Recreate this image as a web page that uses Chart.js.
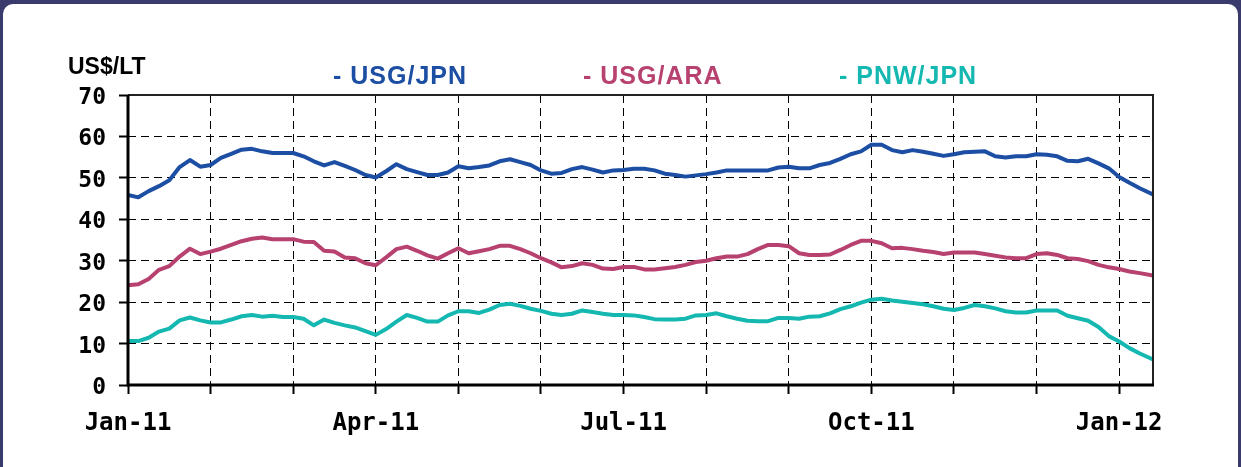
<!DOCTYPE html>
<html>
<head>
<meta charset="utf-8">
<script src="https://cdn.jsdelivr.net/npm/chart.js@4.4.1/dist/chart.umd.min.js"></script>
<style>
  html, body { margin: 0; padding: 0; }
  body { width: 1241px; height: 467px; background: #3b3a6c; overflow: hidden; position: relative; }
  .panel { position: absolute; left: 3px; top: 4px; width: 1235px; height: 490px; background: #fff; border-radius: 10px; }
  #freight-chart { position: absolute; left: 0; top: 0; }
</style>
</head>
<body>
<div class="panel"></div>
<canvas id="freight-chart" width="1241" height="467"></canvas>
<script>
// 運費走勢 (US$/LT)，x 軸以「月」為單位，每點約 1/8 個月
const MONTH_LABELS = ['Jan-11', '', '', 'Apr-11', '', '', 'Jul-11', '', '', 'Oct-11', '', '', 'Jan-12'];
const STEP = 0.125;
const LAST_POS = 12.41;

const SERIES_NAMES  = ['- USG/JPN', '- USG/ARA', '- PNW/JPN'];
const SERIES_COLORS = ['#1c4ea3', '#b7416f', '#14b8b0'];

const usgJpn = [
  45.9, 45.3, 46.8, 48.0, 49.4, 52.6, 54.3, 52.7, 53.1, 54.8,
  55.8, 56.8, 57.0, 56.4, 56.0, 56.0, 56.0, 55.2, 54.0, 53.0,
  53.8, 52.9, 51.9, 50.7, 50.1, 51.6, 53.3, 52.1, 51.4, 50.7,
  50.7, 51.3, 52.8, 52.3, 52.6, 53.0, 54.0, 54.5, 53.8, 53.1,
  51.8, 51.0, 51.2, 52.1, 52.6, 52.0, 51.3, 51.8, 51.9, 52.2,
  52.2, 51.8, 51.0, 50.7, 50.3, 50.6, 50.9, 51.3, 51.8, 51.8,
  51.8, 51.8, 51.8, 52.5, 52.7, 52.3, 52.3, 53.1, 53.6, 54.6,
  55.7, 56.4, 58.0, 58.0, 56.7, 56.2, 56.7, 56.3, 55.8, 55.3,
  55.7, 56.2, 56.3, 56.4, 55.2, 54.9, 55.2, 55.2, 55.7, 55.6,
  55.2, 54.1, 54.0, 54.6, 53.5, 52.3, 50.2, 48.8, 47.5, 46.0
];

const usgAra = [
  24.1, 24.3, 25.6, 27.8, 28.7, 31.0, 32.9, 31.6, 32.2, 32.9,
  33.8, 34.7, 35.3, 35.6, 35.2, 35.2, 35.2, 34.6, 34.5, 32.4,
  32.2, 30.8, 30.6, 29.4, 28.9, 30.8, 32.8, 33.4, 32.4, 31.3,
  30.5, 31.8, 33.0, 31.8, 32.3, 32.8, 33.6, 33.6, 32.8, 31.8,
  30.6, 29.6, 28.4, 28.7, 29.4, 29.0, 28.1, 28.0, 28.5, 28.5,
  27.9, 27.9, 28.2, 28.5, 29.0, 29.7, 30.0, 30.6, 31.0, 31.0,
  31.6, 32.8, 33.8, 33.8, 33.5, 31.8, 31.4, 31.4, 31.5, 32.6,
  33.8, 34.8, 34.8, 34.2, 33.0, 33.1, 32.8, 32.4, 32.1, 31.6,
  32.0, 32.0, 32.0, 31.6, 31.2, 30.8, 30.6, 30.6, 31.6, 31.8,
  31.4, 30.6, 30.4, 29.9, 29.0, 28.4, 28.0, 27.4, 27.0, 26.4
];

const pnwJpn = [
  10.6, 10.6, 11.4, 12.9, 13.6, 15.6, 16.3, 15.6, 15.1, 15.1,
  15.8, 16.6, 16.9, 16.5, 16.7, 16.4, 16.4, 16.0, 14.4, 15.8,
  15.0, 14.4, 13.9, 13.0, 12.1, 13.5, 15.3, 16.9, 16.2, 15.3,
  15.3, 16.8, 17.8, 17.8, 17.4, 18.2, 19.3, 19.6, 19.1, 18.4,
  17.9, 17.2, 16.9, 17.2, 18.0, 17.6, 17.2, 16.9, 16.9, 16.8,
  16.4, 15.9, 15.8, 15.8, 16.0, 16.8, 16.9, 17.3, 16.6, 16.0,
  15.5, 15.4, 15.4, 16.2, 16.2, 16.0, 16.5, 16.6, 17.3, 18.3,
  19.0, 19.9, 20.6, 20.8, 20.4, 20.1, 19.8, 19.5, 19.0, 18.4,
  18.1, 18.6, 19.3, 19.0, 18.5, 17.8, 17.5, 17.5, 18.0, 18.0,
  18.0, 16.7, 16.1, 15.5, 14.0, 11.8, 10.5, 8.9, 7.6, 6.2
];

const Y_TICKS = [0, 10, 20, 30, 40, 50, 60, 70];

function toPoints(values) {
  return values.map((v, i) => ({
    x: i === values.length - 1 ? LAST_POS : i * STEP,
    y: v
  }));
}

// 外框：左、下較粗
const framePlugin = {
  id: 'frame',
  afterDraw(chart) {
    const { ctx, chartArea: a } = chart;
    ctx.save();
    ctx.strokeStyle = '#222';
    ctx.lineWidth = 2;
    ctx.beginPath();
    ctx.moveTo(a.left, a.top);
    ctx.lineTo(a.right, a.top);
    ctx.lineTo(a.right, a.bottom);
    ctx.stroke();
    ctx.strokeStyle = '#000';
    ctx.lineWidth = 3;
    ctx.beginPath();
    ctx.moveTo(a.left, a.top);
    ctx.lineTo(a.left, a.bottom);
    ctx.lineTo(a.right + 1, a.bottom);
    ctx.stroke();
    ctx.restore();
  }
};

// 單位與圖例文字
const headerPlugin = {
  id: 'header',
  afterDraw(chart) {
    const { ctx } = chart;
    ctx.save();
    ctx.textBaseline = 'alphabetic';
    ctx.textAlign = 'left';
    ctx.fillStyle = '#000';
    ctx.font = 'bold 23px "Liberation Sans", Arial, sans-serif';
    ctx.fillText('US$/LT', 68, 74);

    const xs = [333, 583, 839];
    ctx.font = 'bold 25px "Liberation Sans", Arial, sans-serif';
    ctx.letterSpacing = '1px';
    SERIES_NAMES.forEach((name, i) => {
      ctx.fillStyle = SERIES_COLORS[i];
      ctx.fillText(name, xs[i], 84);
    });
    ctx.restore();
  }
};

const tickFont = size => ({ family: '"DejaVu Sans Mono", monospace', weight: 'bold', size });

new Chart(document.getElementById('freight-chart'), {
  type: 'line',
  data: {
    datasets: [usgJpn, usgAra, pnwJpn].map((vals, i) => ({
      label: SERIES_NAMES[i],
      data: toPoints(vals),
      borderColor: SERIES_COLORS[i],
      borderWidth: 4,
      pointRadius: 0,
      tension: 0,
      borderJoinStyle: 'round',
      borderCapStyle: 'round'
    }))
  },
  options: {
    responsive: false,
    animation: false,
    devicePixelRatio: 1,
    events: [],
    layout: { padding: { top: 95, right: 88, left: 0, bottom: 0 } },
    plugins: {
      legend: { display: false },
      title: { display: false },
      tooltip: { enabled: false }
    },
    scales: {
      x: {
        type: 'linear',
        min: 0,
        max: LAST_POS,
        afterBuildTicks: s => { s.ticks = MONTH_LABELS.map((_, i) => ({ value: i })); },
        afterFit: s => { s.height = 82; },
        border: { display: false, dash: [8, 5] },
        grid: { color: '#000', lineWidth: 1, tickLength: 9, tickWidth: 2, tickColor: '#000', tickBorderDash: [] },
        ticks: {
          autoSkip: false,
          maxRotation: 0,
          padding: 15,
          color: '#000',
          font: tickFont(24),
          callback: (v, idx) => MONTH_LABELS[idx]
        }
      },
      y: {
        min: 0,
        max: 70,
        afterBuildTicks: s => { s.ticks = Y_TICKS.map(v => ({ value: v })); },
        afterFit: s => { s.width = 128; },
        border: { display: false, dash: [8, 5] },
        grid: { color: '#000', lineWidth: 1, tickLength: 9, tickWidth: 2, tickColor: '#000', tickBorderDash: [] },
        ticks: {
          padding: 13,
          labelOffset: 3,
          color: '#000',
          font: tickFont(23)
        }
      }
    }
  },
  plugins: [framePlugin, headerPlugin]
});
</script>
</body>
</html>
